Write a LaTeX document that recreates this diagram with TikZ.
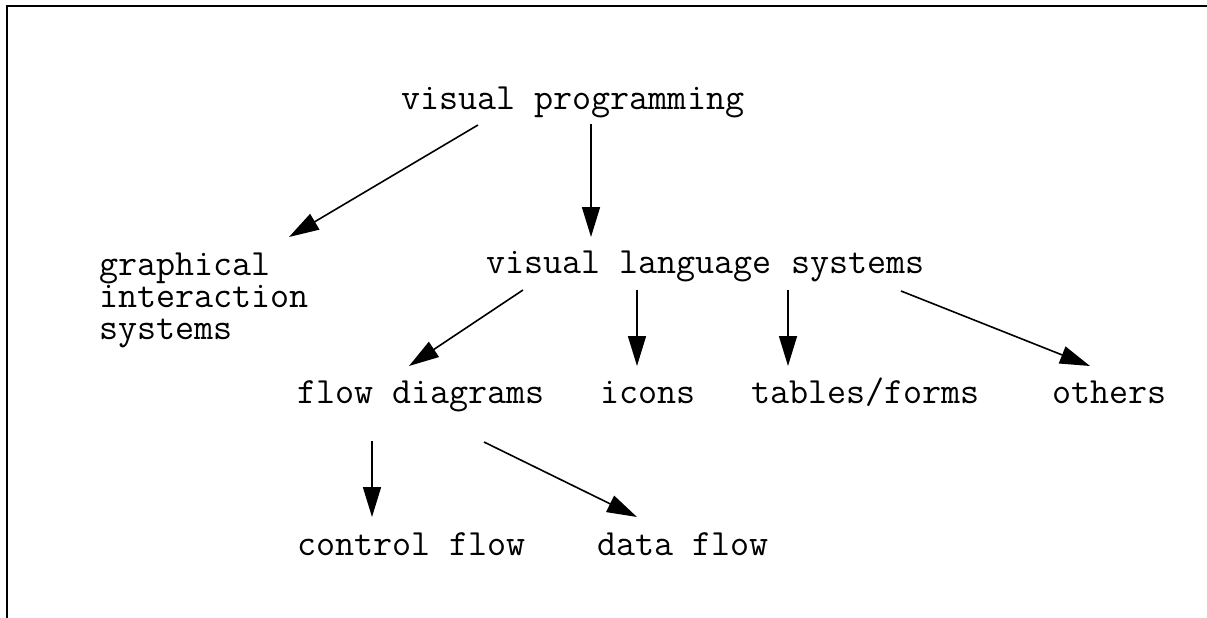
\documentclass[tikz,border=0pt]{standalone}
\usepackage{fontspec}
\usetikzlibrary{arrows.meta,calc}
\begin{document}
\begin{tikzpicture}[x=1pt,y=-1pt,
  lbl/.style={anchor=base west,inner sep=0pt,font=\ttfamily\fontsize{37}{32}\selectfont},
  arr/.style={line width=1.6pt,-{Triangle[length=30pt,width=18pt]}},
  frame/.style={line width=1.8pt}]
\useasboundingbox (0,0) rectangle (1207,618);
\draw[frame] (7,620) -- (7,6) -- (1210,6);
\node[lbl] (vp) at (401,109) {visual programming};
\node[lbl] (gis) at (99,275) {\begin{tabular}[t]{@{}l@{}}graphical\\interaction\\systems\end{tabular}};
\node[lbl] (vls) at (486,273) {visual language systems};
\node[lbl] (fd) at (297,403) {flow diagrams};
\node[lbl] (ic) at (600,403) {icons};
\node[lbl] (tf) at (751,403) {tables/forms};
\node[lbl] (ot) at (1052,403) {others};
\node[lbl] (cf) at (297,555) {control flow};
\node[lbl] (df) at (597,555) {data flow};
\draw[arr] ($(vp.base west)+(77,16)$) -- ($(gis.base west)+(190,-38)$);
\draw[arr] ($(vp.base west)+(190,15)$) -- ($(vls.base west)+(105,-36)$);
\draw[arr] ($(vls.base west)+(37,17)$) -- ($(fd.base west)+(112,-37)$);
\draw[arr] ($(vls.base west)+(151,17)$) -- ($(ic.base west)+(37,-37)$);
\draw[arr] ($(vls.base west)+(302,17)$) -- ($(tf.base west)+(37,-37)$);
\draw[arr] ($(vls.base west)+(415,18)$) -- ($(ot.base west)+(38,-37)$);
\draw[arr] ($(fd.base west)+(75,38)$) -- ($(cf.base west)+(75,-38)$);
\draw[arr] ($(fd.base west)+(187,39)$) -- ($(df.base west)+(40,-38)$);
\end{tikzpicture}
\end{document}
